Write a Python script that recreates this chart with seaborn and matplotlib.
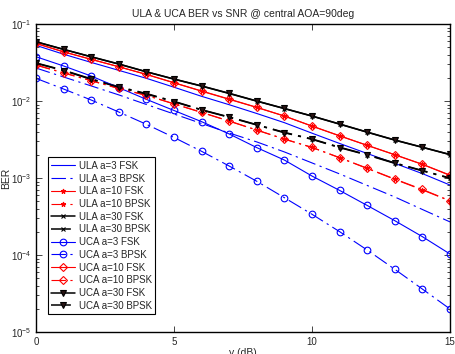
import numpy as np
import pandas as pd
import matplotlib
matplotlib.use('Agg')
import matplotlib.pyplot as plt
import seaborn as sns

snr = list(range(16))

ula3_fsk = [0.0528, 0.0405, 0.0317, 0.0250, 0.0197, 0.0151, 0.0115, 0.00895,
            0.00688, 0.00523, 0.00382, 0.00281, 0.00208, 0.00155, 0.00114, 0.00081]
ula3_bpsk = [0.0268, 0.0205, 0.0157, 0.0120, 0.00901, 0.00678, 0.00510, 0.00384,
             0.00294, 0.00218, 0.00157, 0.00113, 0.00080, 0.000567, 0.000390, 0.000269]
ula10_fsk = [0.0558, 0.0434, 0.0347, 0.0278, 0.0221, 0.0172, 0.0134, 0.0105,
             0.00824, 0.00636, 0.00471, 0.00352, 0.00265, 0.00200, 0.00150, 0.00108]
ula10_bpsk = [0.0292, 0.0231, 0.0183, 0.0145, 0.0118, 0.00915, 0.00709, 0.00547,
              0.00418, 0.00319, 0.00249, 0.00183, 0.00133, 0.00096, 0.00070, 0.000503]
ula30_fsk = [0.0586, 0.0467, 0.0374, 0.0301, 0.0239, 0.0192, 0.0156, 0.0125,
             0.00995, 0.00796, 0.00636, 0.00500, 0.00393, 0.00310, 0.00250, 0.00201]
ula30_bpsk = [0.0312, 0.0251, 0.0194, 0.0153, 0.0125, 0.0099, 0.0077, 0.0062,
              0.00493, 0.00391, 0.00321, 0.00251, 0.00201, 0.00157, 0.00125, 0.00100]
uca3_fsk = [0.0376, 0.0285, 0.0211, 0.0149, 0.0105, 0.00753, 0.00539, 0.00373,
            0.00248, 0.00171, 0.00106, 0.00069, 0.00044, 0.000279, 0.000173, 0.000103]
uca3_bpsk = [0.0197, 0.0143, 0.0103, 0.00719, 0.00498, 0.00336, 0.00222, 0.00143,
             0.000906, 0.000555, 0.000338, 0.000201, 0.000116, 6.52e-5, 3.61e-5, 1.99e-5]
uca10_fsk = [0.0561, 0.0436, 0.0348, 0.0279, 0.0222, 0.0173, 0.0135, 0.0106,
             0.00828, 0.00639, 0.00473, 0.00354, 0.00266, 0.00201, 0.00151, 0.00109]
uca10_bpsk = [0.0294, 0.0233, 0.0184, 0.0146, 0.0119, 0.0092, 0.00713, 0.0055,
              0.0042, 0.00321, 0.0025, 0.00184, 0.00134, 0.00097, 0.00071, 0.000507]
uca30_fsk = [0.0589, 0.0469, 0.0376, 0.0303, 0.0240, 0.0193, 0.0157, 0.0126,
             0.0100, 0.0080, 0.00639, 0.00503, 0.00395, 0.00312, 0.00251, 0.00202]
uca30_bpsk = [0.0309, 0.0248, 0.0191, 0.0151, 0.0123, 0.00979, 0.00764, 0.00614,
              0.00488, 0.00387, 0.00318, 0.00248, 0.00199, 0.00155, 0.00124, 0.00099]

labels = ['ULA a=3 FSK', 'ULA a=3 BPSK', 'ULA a=10 FSK', 'ULA a=10 BPSK',
          'ULA a=30 FSK', 'ULA a=30 BPSK', 'UCA a=3 FSK', 'UCA a=3 BPSK',
          'UCA a=10 FSK', 'UCA a=10 BPSK', 'UCA a=30 FSK', 'UCA a=30 BPSK']
series = [ula3_fsk, ula3_bpsk, ula10_fsk, ula10_bpsk, ula30_fsk, ula30_bpsk,
          uca3_fsk, uca3_bpsk, uca10_fsk, uca10_bpsk, uca30_fsk, uca30_bpsk]

dashdot = (0, (13, 4, 2, 4))
# color, marker, marker size, linestyle, marker face
styles = [
    ('b', None, 0, '-', 'none'),
    ('b', None, 0, dashdot, 'none'),
    ('r', '*', 3.5, '-', 'r'),
    ('r', '*', 3.5, dashdot, 'r'),
    ('k', 'x', 3.5, '-', 'k'),
    ('k', 'x', 3.5, dashdot, 'k'),
    ('b', 'o', 4.8, '-', 'none'),
    ('b', 'o', 4.8, dashdot, 'none'),
    ('r', 'D', 3.6, '-', 'none'),
    ('r', 'D', 3.6, dashdot, 'none'),
    ('k', 'v', 4.8, '-', '#2a1414'),
    ('k', 'v', 4.8, dashdot, '#2a1414'),
]

df = pd.DataFrame({'snr': snr * len(labels),
                   'ber': np.concatenate(series),
                   'label': np.repeat(labels, len(snr))})

sns.set_style('ticks')
plt.rcParams['font.family'] = ['Liberation Sans', 'DejaVu Sans']
plt.rcParams['xtick.direction'] = 'in'
plt.rcParams['ytick.direction'] = 'in'

fig = plt.figure(figsize=(4.56, 3.54), dpi=100)
ax = fig.add_axes([36 / 456, 1 - 332 / 354, 414 / 456, 308 / 354])

for lab, (c, m, ms, ls, fc) in zip(labels, styles):
    d = df[df['label'] == lab]
    lw = 1.1 if c == 'k' else 0.8
    sns.lineplot(x='snr', y='ber', data=d, ax=ax, color=c, marker=m,
                 linestyle=ls, linewidth=lw, markersize=ms,
                 markeredgecolor=c, markerfacecolor=fc, markeredgewidth=0.8,
                 label=lab)

ax.set_yscale('log')
ax.set_xlim(0, 15)
ax.set_ylim(1e-5, 1e-1)
ax.set_xticks([0, 5, 10, 15])
ax.tick_params(which='both', top=True, right=True, labelsize=7, width=0.6)
ax.tick_params(which='major', length=4)
ax.tick_params(which='minor', length=2)
for s in ax.spines.values():
    s.set_linewidth(1.0)
    s.set_color('k')

ax.set_title('ULA & UCA BER vs SNR @ central AOA=90deg', fontsize=7.5, pad=5)
ax.set_xlabel('y (dB)', fontsize=7.5, labelpad=1)
ax.set_ylabel('BER', fontsize=7.5)
ax.yaxis.set_label_coords(-0.06, 0.5)

leg = ax.legend(loc='lower left', bbox_to_anchor=(0.029, 0.058), borderaxespad=0,
                fontsize=7, frameon=True, fancybox=False, edgecolor='k',
                handlelength=2.4, labelspacing=0.28, handletextpad=0.4,
                borderpad=0.35, framealpha=1)
leg.get_frame().set_linewidth(0.8)

plt.savefig('out.png', dpi=100)
